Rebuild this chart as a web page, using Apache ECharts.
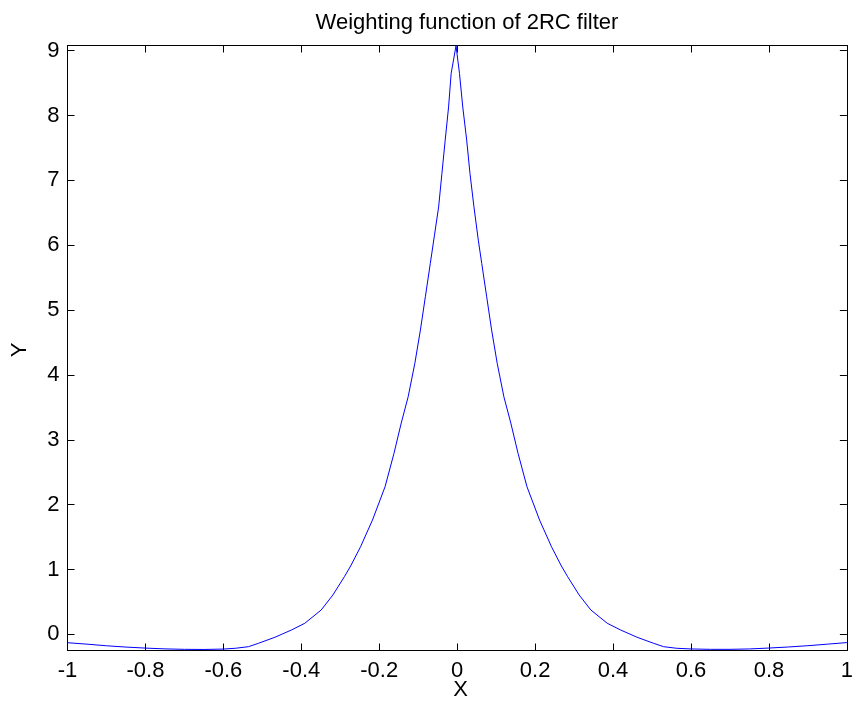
<!DOCTYPE html>
<html>
<head>
<meta charset="utf-8">
<script src="https://cdn.jsdelivr.net/npm/echarts@6/dist/echarts.min.js"></script>
<style>
html,body{margin:0;padding:0;background:#fff;}
#c{width:856px;height:708px;}
</style>
</head>
<body>
<div id="c"></div>
<script>
var chartTitle = 'Weighting function of 2RC filter';
var xName = 'X';
var yName = 'Y';
var xTicks = [-1, -0.8, -0.6, -0.4, -0.2, 0, 0.2, 0.4, 0.6, 0.8, 1];
var yTicks = [0, 1, 2, 3, 4, 5, 6, 7, 8, 9];
var xValues = [
  -1.0, -0.95, -0.9, -0.85, -0.8, -0.75, -0.7, -0.65, -0.6, -0.5695,
  -0.5356, -0.51, -0.4677, -0.4254, -0.391, -0.349, -0.319, -0.2895, -0.2734, -0.248,
  -0.2174, -0.1851, -0.1622, -0.1436, -0.1258, -0.1087, -0.0944, -0.0817, -0.069, -0.0583,
  -0.0476, -0.0392, -0.0308, -0.0221, -0.0155, -0.003,
  0.0059, 0.0143, 0.0244, 0.0328, 0.043, 0.0542, 0.063, 0.0757, 0.0884, 0.1027,
  0.1198, 0.1376, 0.1562, 0.1791, 0.2114, 0.242, 0.2674, 0.2835, 0.313, 0.343,
  0.385, 0.4194, 0.4617, 0.504, 0.5296, 0.5635, 0.6, 0.65, 0.7, 0.75,
  0.8, 0.85, 0.9, 0.95, 1.0
];
var yValues = [
  -0.13, -0.152, -0.177, -0.197, -0.213, -0.225, -0.232, -0.234, -0.228, -0.216,
  -0.191, -0.139, -0.046, 0.066, 0.17, 0.375, 0.606, 0.888, 1.053, 1.35,
  1.762, 2.275, 2.79, 3.257, 3.663, 4.178, 4.691, 5.204, 5.719, 6.155,
  6.592, 7.107, 7.62, 8.133, 8.648, 9.077,
  8.648, 8.133, 7.62, 7.107, 6.592, 6.078, 5.719, 5.204, 4.691, 4.178,
  3.663, 3.257, 2.79, 2.275, 1.762, 1.35, 1.053, 0.888, 0.606, 0.375,
  0.17, 0.066, -0.046, -0.139, -0.191, -0.216, -0.226, -0.232, -0.232, -0.226,
  -0.212, -0.196, -0.176, -0.152, -0.128
];
var xRange = [-1, 1];
var yRange = [-0.25, 9.08];

var data = xValues.map(function (x, i) { return [x, yValues[i]]; });
var font = '"Liberation Sans", Arial, Helvetica, sans-serif';

function isTick(list, v) {
  for (var i = 0; i < list.length; i++) { if (Math.abs(list[i] - v) < 1e-6) return true; }
  return false;
}
function fmtX(v) { return isTick(xTicks, v) ? String(+v.toFixed(1)) : ''; }
function fmtY(v) { return isTick(yTicks, v) ? String(Math.round(v)) : ''; }

var axisLineStyle = { color: '#000', width: 1 };
var chart = echarts.init(document.getElementById('c'), null, { renderer: 'canvas' });
chart.setOption({
  animation: false,
  backgroundColor: '#fff',
  grid: { left: 67.5, right: 3, top: 45.5, bottom: 57.5, containLabel: false },
  xAxis: [
    {
      type: 'value', position: 'bottom', min: xRange[0], max: xRange[1], interval: 0.2,
      axisLine: { show: true, onZero: false, lineStyle: axisLineStyle },
      axisTick: { show: true, inside: true, length: 7, lineStyle: axisLineStyle, customValues: xTicks },
      axisLabel: { show: true, color: '#000', fontSize: 22, fontFamily: font, margin: 9, formatter: fmtX, customValues: xTicks },
      splitLine: { show: false }
    },
    {
      type: 'value', position: 'top', min: xRange[0], max: xRange[1], interval: 0.2,
      axisLine: { show: true, onZero: false, lineStyle: axisLineStyle },
      axisTick: { show: true, inside: true, length: 7, lineStyle: axisLineStyle, customValues: xTicks },
      axisLabel: { show: false },
      splitLine: { show: false }
    }
  ],
  yAxis: [
    {
      type: 'value', position: 'left', min: yRange[0], max: yRange[1], interval: 1,
      axisLine: { show: true, onZero: false, lineStyle: axisLineStyle },
      axisTick: { show: true, inside: true, length: 7, lineStyle: axisLineStyle, customValues: yTicks },
      axisLabel: { show: true, color: '#000', fontSize: 22, fontFamily: font, margin: 8, formatter: fmtY, customValues: yTicks },
      splitLine: { show: false }
    },
    {
      type: 'value', position: 'right', min: yRange[0], max: yRange[1], interval: 1,
      axisLine: { show: true, onZero: false, lineStyle: axisLineStyle },
      axisTick: { show: true, inside: true, length: 7, lineStyle: axisLineStyle, customValues: yTicks },
      axisLabel: { show: false },
      splitLine: { show: false }
    }
  ],
  series: [{
    type: 'line',
    xAxisIndex: 0, yAxisIndex: 0,
    data: data,
    showSymbol: false,
    symbol: 'none',
    smooth: false,
    lineStyle: { color: '#0000ff', width: 1 },
    clip: true
  }],
  graphic: [
    { type: 'text', x: 467, y: 23, style: { text: chartTitle, fill: '#000', font: '22px ' + font, align: 'center', verticalAlign: 'middle' } },
    { type: 'text', x: 460.5, y: 690, style: { text: xName, fill: '#000', font: '22px ' + font, align: 'center', verticalAlign: 'middle' } },
    { type: 'text', x: 20, y: 350, rotation: Math.PI / 2, style: { text: yName, fill: '#000', font: '22px ' + font, align: 'center', verticalAlign: 'middle' } }
  ]
});
</script>
</body>
</html>
